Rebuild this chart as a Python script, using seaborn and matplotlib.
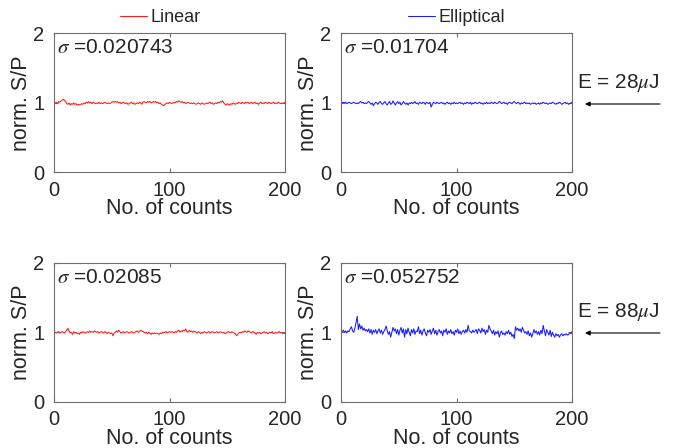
import numpy as np
import pandas as pd
import matplotlib
matplotlib.use("Agg")
import matplotlib.pyplot as plt
import seaborn as sns

# normalised S/P signal, 200 shots per panel
counts = list(range(1, 201))

linear_28 = [
    1.00, 1.01, 0.99, 1.02, 1.01, 1.03, 1.04, 1.05, 1.04, 1.02, 0.99, 0.98, 1.00, 0.97, 0.99, 0.98, 1.00, 0.98, 0.99, 0.97,
    0.98, 0.97, 0.98, 0.99, 0.98, 1.00, 0.99, 1.01, 1.00, 1.02, 1.00, 1.01, 0.99, 1.01, 1.00, 0.99, 1.00, 0.99, 1.01, 0.99,
    1.00, 0.99, 1.00, 1.01, 1.00, 0.99, 1.00, 0.99, 1.00, 1.01, 1.02, 1.01, 1.02, 1.01, 1.02, 1.00, 1.01, 0.99, 1.00, 1.01,
    1.00, 0.99, 1.00, 0.98, 0.99, 1.00, 1.01, 0.99, 1.00, 0.98, 0.99, 1.00, 0.99, 1.01, 1.00, 0.98, 1.01, 1.02, 1.01, 1.00,
    1.02, 1.01, 1.02, 1.00, 1.01, 1.02, 1.01, 1.02, 1.00, 1.01, 0.99, 1.00, 0.98, 0.97, 0.96, 0.98, 0.99, 1.00, 0.99, 1.01,
    1.00, 0.99, 1.00, 1.01, 1.00, 1.02, 1.01, 1.03, 1.02, 1.01, 1.02, 1.00, 1.01, 0.99, 1.00, 1.01, 1.00, 0.99, 1.00, 0.99,
    1.00, 0.99, 0.98, 0.99, 1.00, 0.99, 0.98, 1.00, 0.99, 0.98, 0.99, 1.00, 0.99, 1.00, 1.01, 0.99, 1.00, 0.98, 0.99, 1.00,
    0.99, 1.01, 1.00, 1.02, 1.01, 1.03, 1.00, 0.98, 0.97, 0.99, 0.98, 0.97, 0.99, 0.98, 1.00, 0.99, 0.98, 1.00, 0.99, 1.01,
    1.00, 0.99, 1.01, 1.00, 0.99, 1.01, 1.00, 1.01, 0.99, 1.00, 1.01, 0.99, 1.00, 1.01, 0.99, 1.00, 0.98, 1.00, 1.01, 0.99,
    1.00, 0.99, 1.01, 1.00, 0.99, 1.01, 1.00, 0.99, 1.00, 1.01, 0.99, 1.00, 0.99, 1.01, 1.00, 0.99, 1.00, 0.99, 1.00, 1.01,
]

elliptical_28 = [
    1.00, 1.01, 1.00, 1.01, 0.99, 1.00, 1.01, 1.00, 0.99, 1.00, 1.01, 1.00, 0.99, 1.00, 0.99, 1.01, 1.02, 1.00, 1.01, 0.99,
    1.00, 0.99, 1.01, 1.02, 1.00, 0.98, 1.00, 0.96, 0.99, 1.01, 1.00, 0.98, 1.01, 1.02, 0.99, 0.98, 1.00, 1.02, 0.99, 0.97,
    1.00, 1.02, 0.98, 0.99, 1.03, 1.00, 0.97, 1.00, 1.02, 0.99, 1.01, 0.97, 0.99, 1.02, 1.00, 0.98, 1.00, 0.97, 1.00, 0.99,
    1.01, 0.99, 1.00, 1.02, 0.99, 1.00, 0.98, 1.01, 1.00, 0.99, 1.01, 1.00, 0.98, 1.01, 1.00, 0.99, 1.01, 0.94, 0.98, 1.01,
    1.00, 0.99, 1.01, 1.00, 0.99, 1.00, 1.01, 0.99, 1.00, 0.98, 1.00, 1.01, 0.99, 1.00, 0.98, 1.00, 0.99, 1.01, 0.99, 1.00,
    0.99, 1.00, 1.01, 0.99, 1.00, 0.98, 1.00, 0.99, 1.01, 1.00, 0.99, 1.01, 0.98, 1.00, 0.99, 1.01, 1.00, 0.99, 1.00, 1.01,
    0.99, 1.00, 0.98, 1.00, 0.99, 1.01, 0.99, 1.00, 0.99, 1.01, 1.00, 0.99, 1.01, 1.00, 0.99, 1.00, 1.02, 1.01, 0.99, 1.00,
    1.01, 0.99, 1.00, 0.98, 1.00, 1.01, 1.00, 0.99, 1.01, 1.02, 1.00, 0.99, 1.01, 1.00, 0.98, 1.00, 0.99, 1.00, 1.01, 0.99,
    1.00, 0.99, 1.00, 0.98, 0.99, 1.00, 0.99, 1.00, 0.98, 0.99, 1.00, 0.98, 1.00, 0.99, 1.01, 1.00, 0.99, 1.00, 0.98, 0.99,
    1.00, 0.99, 1.01, 1.00, 0.99, 0.98, 1.00, 0.99, 1.01, 1.00, 0.98, 0.99, 1.00, 1.01, 0.99, 1.00, 0.98, 0.99, 1.00, 1.01,
]

linear_88 = [
    1.00, 0.99, 1.00, 1.01, 0.99, 1.00, 1.01, 1.00, 0.99, 1.01, 1.03, 1.06, 1.02, 0.99, 1.00, 0.97, 1.01, 0.99, 1.00, 0.98,
    0.99, 0.97, 1.00, 0.99, 1.01, 1.00, 0.99, 1.00, 1.01, 1.00, 1.02, 1.00, 1.01, 1.00, 1.02, 1.01, 1.00, 1.01, 0.99, 1.00,
    1.01, 1.00, 0.99, 1.01, 1.00, 0.98, 1.00, 0.99, 0.98, 0.99, 0.95, 0.99, 1.00, 1.02, 1.00, 1.03, 1.01, 0.99, 1.00, 1.01,
    0.99, 1.00, 1.01, 1.00, 0.99, 1.00, 1.01, 1.00, 0.99, 1.00, 1.01, 1.02, 1.00, 1.01, 1.03, 1.02, 1.01, 1.00, 0.99, 1.00,
    0.98, 1.00, 0.99, 0.97, 0.99, 0.98, 0.99, 0.98, 0.99, 0.98, 0.97, 0.99, 0.98, 1.00, 0.99, 1.00, 1.01, 0.99, 1.00, 1.01,
    1.00, 1.01, 1.00, 0.99, 1.01, 1.00, 1.02, 1.03, 1.00, 1.02, 1.01, 1.03, 1.02, 1.05, 1.01, 1.00, 1.03, 1.01, 1.02, 1.00,
    1.02, 1.01, 1.00, 0.99, 1.01, 1.00, 0.98, 1.00, 0.99, 1.01, 1.00, 0.99, 1.00, 1.01, 0.99, 1.00, 1.01, 1.00, 0.99, 1.00,
    1.01, 0.99, 1.00, 1.01, 1.00, 0.99, 1.00, 0.98, 0.99, 1.00, 1.01, 1.00, 0.99, 1.01, 1.00, 0.99, 0.98, 0.95, 0.97, 0.99,
    1.00, 0.99, 1.01, 1.00, 1.02, 1.01, 1.00, 1.02, 1.01, 1.00, 0.99, 1.01, 1.00, 0.99, 0.97, 1.00, 0.99, 1.00, 0.98, 0.99,
    1.00, 1.01, 0.99, 1.00, 0.98, 0.99, 1.00, 0.99, 1.01, 0.98, 0.99, 1.00, 0.99, 1.00, 1.01, 0.99, 1.00, 0.98, 0.99, 0.98,
]

elliptical_88 = [
    1.01, 1.03, 1.00, 1.02, 0.99, 1.02, 1.01, 1.05, 1.08, 1.02, 1.00, 1.06, 1.14, 1.23, 1.04, 1.12, 1.05, 1.09, 1.03, 1.06,
    1.02, 1.04, 1.01, 1.05, 0.99, 1.04, 0.97, 1.03, 1.00, 1.04, 0.98, 1.02, 1.05, 0.99, 1.03, 0.97, 1.01, 1.04, 1.09, 1.02,
    0.97, 1.01, 0.93, 1.00, 1.07, 1.02, 1.05, 0.98, 1.04, 0.96, 1.03, 1.07, 0.99, 1.05, 0.93, 1.04, 0.98, 1.06, 1.00, 0.95,
    1.04, 0.99, 1.05, 0.97, 1.02, 1.01, 1.08, 0.98, 1.03, 0.96, 1.02, 1.05, 0.99, 0.95, 1.03, 1.00, 1.04, 0.97, 1.02, 1.06,
    0.98, 1.03, 0.96, 1.01, 1.04, 0.99, 1.02, 0.95, 1.03, 1.00, 1.05, 0.97, 1.02, 0.99, 1.04, 0.98, 1.01, 0.96, 1.03, 1.00,
    1.05, 0.98, 1.02, 0.97, 1.01, 1.03, 0.99, 1.04, 1.00, 1.10, 1.02, 1.01, 0.99, 1.03, 1.00, 1.02, 1.04, 0.98, 1.05, 1.03,
    0.99, 1.06, 1.01, 1.04, 0.97, 1.03, 1.00, 1.10, 1.05, 1.02, 0.98, 1.03, 0.96, 1.01, 0.98, 1.02, 0.93, 0.99, 1.02, 0.97,
    0.99, 0.96, 1.01, 0.98, 1.03, 0.97, 1.00, 0.94, 0.97, 0.91, 1.08, 1.03, 1.06, 1.02, 1.05, 1.00, 1.07, 1.03, 0.99, 1.01,
    0.97, 1.02, 0.95, 0.99, 0.93, 0.98, 1.04, 0.99, 1.02, 0.97, 1.01, 0.96, 1.03, 0.98, 1.10, 1.02, 0.95, 1.04, 1.00, 0.96,
    1.03, 0.94, 1.00, 0.96, 0.93, 0.98, 0.95, 0.97, 0.93, 0.96, 0.98, 0.95, 0.97, 0.96, 0.98, 0.96, 0.97, 0.99, 0.98, 1.01,
]

sigmas = ["0.020743", "0.01704", "0.02085", "0.052752"]
energies = ["28", "88"]
legend_labels = ["Linear", "Elliptical"]

sns.set_style("ticks")
plt.rcParams["font.family"] = ["Liberation Sans", "DejaVu Sans"]
plt.rcParams["mathtext.fontset"] = "stix"

fig = plt.figure(figsize=(6.87, 4.48), dpi=100)

# axes boxes in figure fraction: [left, bottom, width, height]
lefts = [0.0786, 0.4964]
bottoms = [0.6150, 0.1030]
w, h = 0.3363, 0.3105
legend_x = [0.46, 0.50]

panels = [
    (0, 0, linear_28, "#ff1a1a", sigmas[0]),
    (0, 1, elliptical_28, "#1a1aff", sigmas[1]),
    (1, 0, linear_88, "#ff1a1a", sigmas[2]),
    (1, 1, elliptical_88, "#1a1aff", sigmas[3]),
]

spine_col = "#6e6e6e"
text_col = "#262626"
for row, col, values, color, sig in panels:
    ax = fig.add_axes([lefts[col], bottoms[row], w, h])
    df = pd.DataFrame({"count": counts, "sp": values})
    lbl = legend_labels[col] if row == 0 else None
    sns.lineplot(data=df, x="count", y="sp", color=color, lw=0.75, ax=ax, label=lbl)
    ax.set_xlim(0, 200)
    ax.set_ylim(0, 2)
    ax.set_xticks([0, 100, 200])
    ax.set_yticks([0, 1, 2])
    ax.tick_params(direction="in", length=3, width=0.8, top=True, right=True,
                   labelsize=14.5, colors=spine_col, labelcolor=text_col)
    ax.tick_params(axis="x", pad=6)
    ax.tick_params(axis="y", pad=7)
    for s in ax.spines.values():
        s.set_visible(True)
        s.set_color(spine_col)
        s.set_linewidth(0.8)
    ax.set_xlabel("No. of counts", fontsize=15.5, labelpad=-1, color=text_col)
    ax.set_ylabel("norm. S/P", fontsize=15.5, labelpad=1, color=text_col)
    ax.text(0.015, 0.895, r"$\sigma$ =" + sig, transform=ax.transAxes,
            fontsize=15, va="center", ha="left", color=text_col)
    if lbl is not None:
        ax.legend(loc="center", bbox_to_anchor=(legend_x[col], 1.115), frameon=False,
                  fontsize=13, handlelength=1.5, handletextpad=0.2,
                  borderaxespad=0.0, borderpad=0.0, labelcolor=text_col)
    else:
        leg = ax.get_legend()
        if leg is not None:
            leg.remove()

# pulse energy annotations on the right
for row, energy in enumerate(energies):
    y_text = [83, 312][row]
    y_arrow = [104, 333][row]
    fig.text(577 / 687, 1 - y_text / 448, "E = " + energy + r"$\mu$J",
             fontsize=15, ha="left", va="center", color=text_col)
    fig.add_artist(plt.Annotation(
        "", xy=(585 / 687, 1 - y_arrow / 448), xytext=(660 / 687, 1 - y_arrow / 448),
        xycoords="figure fraction", textcoords="figure fraction",
        arrowprops=dict(arrowstyle="-|>", color="black", lw=0.8,
                        mutation_scale=7, shrinkA=0, shrinkB=0)))

fig.savefig("out.png", dpi=100)
